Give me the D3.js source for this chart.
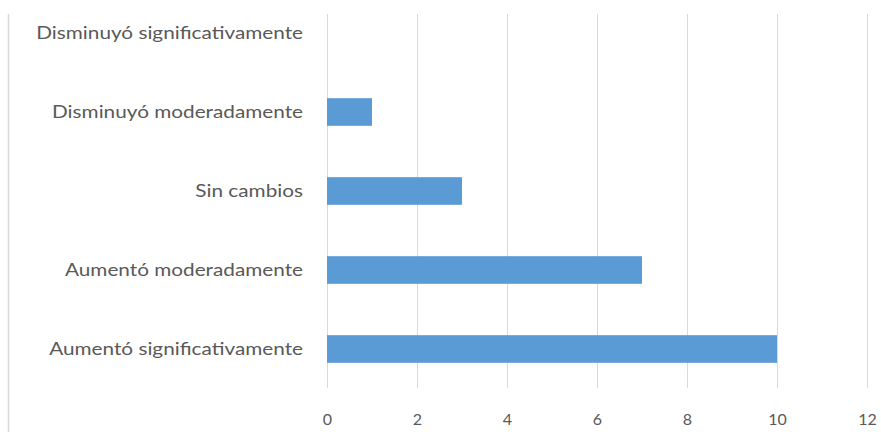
<!DOCTYPE html>
<html><head><meta charset="utf-8">
<script src="https://cdn.jsdelivr.net/npm/d3@7"></script>
<style>body{margin:0;background:#fff}svg{display:block}</style>
</head><body>
<svg id="c" width="881" height="432"></svg>
<script>
const categories = ["Disminuyó significativamente","Disminuyó moderadamente","Sin cambios","Aumentó moderadamente","Aumentó significativamente"];
const values = [0, 1, 3, 7, 10];
const xTicks = [0, 2, 4, 6, 8, 10, 12];

const svg = d3.select("#c");
const x = d3.scaleLinear().domain([0, 12]).range([327, 867]);
const y = d3.scaleBand().domain(categories).range([-6.5, 388.5]).paddingInner(0.65).paddingOuter(0.325);
const font = "Lato, 'Open Sans', sans-serif";

// chart border (left edge)
svg.append("line").attr("x1", 8.5).attr("x2", 8.5).attr("y1", 14).attr("y2", 432)
  .attr("stroke", "#d9d9d9").attr("stroke-width", 1.5);

// gridlines
svg.append("g").selectAll("line").data(xTicks).join("line")
  .attr("x1", d => Math.round(x(d)) + 0.5).attr("x2", d => Math.round(x(d)) + 0.5)
  .attr("y1", 14).attr("y2", 388)
  .attr("stroke", "#d9d9d9").attr("stroke-width", 1);

// bars
svg.append("g").selectAll("rect").data(categories).join("rect")
  .attr("x", x(0)).attr("y", d => y(d))
  .attr("width", (d, i) => x(values[i]) - x(0))
  .attr("height", y.bandwidth())
  .attr("fill", "#5B9BD5");

// category labels
const labels = svg.append("g").selectAll("text").data(categories).join("text")
  .attr("x", 303).attr("y", d => y(d) + y.bandwidth() / 2)
  .attr("dy", "0.35em").attr("text-anchor", "end")
  .attr("font-family", font).attr("font-size", 17).attr("fill", "#595959")
  .text(d => d);
labels.each(function () {
  const w = this.getComputedTextLength();
  d3.select(this).attr("textLength", w * 1.22).attr("lengthAdjust", "spacingAndGlyphs");
});

// x axis tick labels
const axis = d3.axisBottom(x).tickValues(xTicks).tickSize(0).tickPadding(0);
const gx = svg.append("g").attr("transform", "translate(0,414)").call(axis);
gx.select(".domain").remove();
gx.selectAll("text").attr("font-family", font).attr("font-size", 16).attr("fill", "#595959");
</script>
</body></html>
